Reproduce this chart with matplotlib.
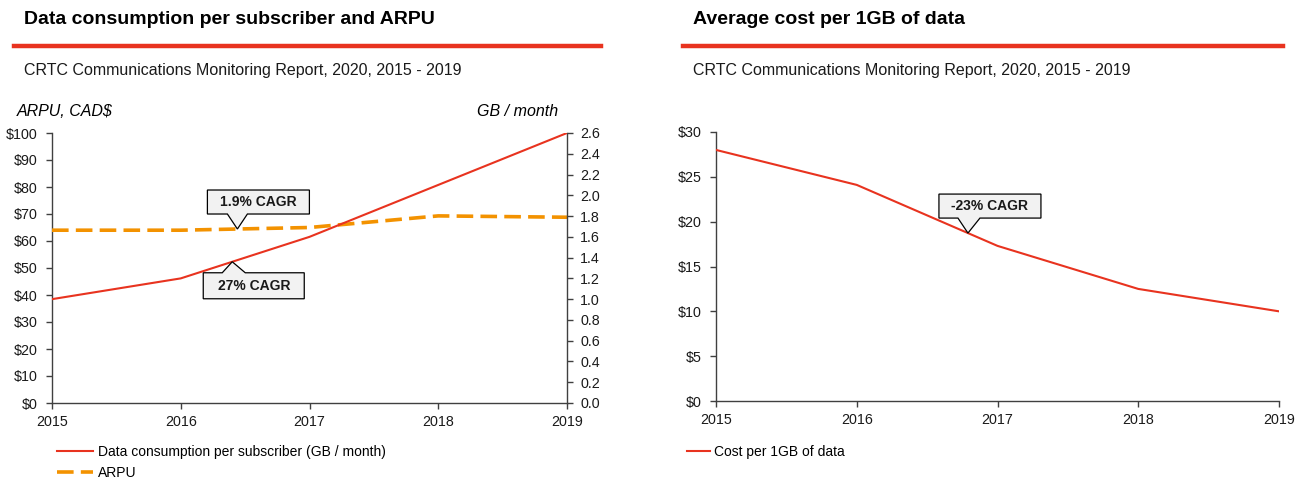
import matplotlib
matplotlib.use("Agg")
import matplotlib.pyplot as plt
import matplotlib.transforms as mtransforms
from matplotlib.patches import Polygon
from matplotlib.lines import Line2D
import numpy as np

plt.rcParams['font.family'] = ['Liberation Sans', 'DejaVu Sans']

# ---------------- data ----------------
years = [2015, 2016, 2017, 2018, 2019]
gb_per_month = [1.0, 1.2, 1.6, 2.1, 2.6]
arpu = [64.0, 64.0, 65.0, 69.3, 68.8]
cost_per_gb = [28.0, 24.1, 17.3, 12.5, 10.0]

left_ticks = list(range(0, 101, 10))
gb_ticks = [round(0.2 * i, 1) for i in range(14)]
cost_ticks = list(range(0, 31, 5))

title_left = "Data consumption per subscriber and ARPU"
title_right = "Average cost per 1GB of data"
subtitle = "CRTC Communications Monitoring Report, 2020, 2015 - 2019"
label_left = "ARPU, CAD$"
label_right = "GB / month"
legend_gb = "Data consumption per subscriber (GB / month)"
legend_arpu = "ARPU"
legend_cost = "Cost per 1GB of data"
cagr_arpu = "1.9% CAGR"
cagr_gb = "27% CAGR"
cagr_cost = "-23% CAGR"

RED = "#e8331f"
ORANGE = "#f39200"
AXC = "#404040"
DASH = (4.6, 2.0)

W, H = 1311, 483
fig = plt.figure(figsize=(W / 100, H / 100), dpi=100)


def fx(px):
    return px / W


def fy(py):
    return 1 - py / H


def style_axis(ax, sides, ypad):
    for s in ['left', 'right', 'top', 'bottom']:
        ax.spines[s].set_visible(s in sides)
        ax.spines[s].set_color(AXC)
        ax.spines[s].set_linewidth(1.0)
    ax.tick_params(axis='both', direction='out', length=4, width=1, color=AXC,
                   labelsize=10.3, labelcolor='#1a1a1a')
    ax.tick_params(axis='x', pad=5)
    ax.tick_params(axis='y', pad=ypad)


def callout(ax, xd, yd, text, box, notch):
    # box = (left, right, bottom, top) in pixel offsets from tip (y up)
    l, r, b, t = box
    n0, n1 = notch
    if b > 0:  # box above, pointer down
        verts = [(0, 0), (n1, b), (r, b), (r, t), (l, t), (l, b), (n0, b)]
    else:  # box below, pointer up
        verts = [(0, 0), (n0, t), (l, t), (l, b), (r, b), (r, t), (n1, t)]
    tr = mtransforms.Affine2D() + mtransforms.ScaledTranslation(xd, yd, ax.transData)
    poly = Polygon(verts, closed=True, facecolor='#f2f2f2', edgecolor='black',
                   linewidth=0.9, transform=tr, zorder=10, clip_on=False)
    ax.add_patch(poly)
    ax.text((l + r) / 2, (b + t) / 2, text, transform=tr, ha='center', va='center',
            fontsize=10, fontweight='bold', zorder=11, color='#1a1a1a')


# ---------------- headers ----------------
for x0, x1, title in [(14, 601, title_left), (683, 1283, title_right)]:
    fig.text(fx(x0 + 10), fy(20), title, fontsize=14, fontweight='bold',
             va='center', ha='left', color='black')
    fig.add_artist(Line2D([fx(x0), fx(x1)], [fy(46), fy(46)], color=RED,
                          linewidth=3.2, transform=fig.transFigure))
    fig.text(fx(x0 + 10), fy(70), subtitle, fontsize=11.5, va='center', ha='left',
             color='#1a1a1a')

# ---------------- left chart ----------------
ax = fig.add_axes([fx(52), fy(403), fx(567 - 52), (403 - 133) / H])
ax2 = ax.twinx()
ax.plot(years, arpu, color=ORANGE, linewidth=2.6, dashes=DASH, zorder=3)
ax2.plot(years, gb_per_month, color=RED, linewidth=1.5, zorder=4)
ax.set_xlim(2015, 2019)
ax.set_ylim(0, 100)
ax2.set_ylim(0, 2.6)
ax.set_xticks(years)
ax.set_xticklabels([str(y) for y in years])
ax.set_yticks(left_ticks)
ax.set_yticklabels([f"${v}" for v in left_ticks])
ax2.set_yticks(gb_ticks)
ax2.set_yticklabels([f"{v:.1f}" for v in gb_ticks])
style_axis(ax, ['left', 'bottom'], 6.5)
style_axis(ax2, ['right', 'bottom'], 5.5)
ax2.spines['bottom'].set_visible(False)
ax.patch.set_alpha(0)

fig.text(fx(17), fy(112), label_left, fontsize=11.5, style='italic', va='center', ha='left')
fig.text(fx(558), fy(112), label_right, fontsize=11.5, style='italic', va='center', ha='right')

# callouts
xa = 2016.44
callout(ax, xa, float(np.interp(xa, years, arpu)), cagr_arpu, (-30, 72, 15, 39), (-10, 10))
xg = 2016.40
callout(ax2, xg, float(np.interp(xg, years, gb_per_month)), cagr_gb, (-29, 72, -37, -11), (-10, 13))

# legend
h1 = Line2D([], [], color=RED, linewidth=1.5)
h2 = Line2D([], [], color=ORANGE, linewidth=2.6, dashes=DASH)
fig.legend([h1, h2], [legend_gb, legend_arpu], loc='upper left',
           bbox_to_anchor=(fx(57), fy(445)), frameon=False, fontsize=10,
           handlelength=2.6, handletextpad=0.35, labelspacing=0.5,
           borderaxespad=0, borderpad=0)

# ---------------- right chart ----------------
ax3 = fig.add_axes([fx(716), fy(401), fx(1279 - 716), (401 - 132) / H])
ax3.plot(years, cost_per_gb, color=RED, linewidth=1.5, zorder=4)
ax3.set_xlim(2015, 2019)
ax3.set_ylim(0, 30)
ax3.set_xticks(years)
ax3.set_xticklabels([str(y) for y in years])
ax3.set_yticks(cost_ticks)
ax3.set_yticklabels([f"${v}" for v in cost_ticks])
style_axis(ax3, ['left', 'bottom'], 6)

xc = 2016.79
callout(ax3, xc, float(np.interp(xc, years, cost_per_gb)), cagr_cost, (-29, 73, 15, 39), (-10, 12))

h3 = Line2D([], [], color=RED, linewidth=1.5)
fig.legend([h3], [legend_cost], loc='upper left',
           bbox_to_anchor=(fx(687), fy(445)), frameon=False, fontsize=10,
           handlelength=1.65, handletextpad=0.3, borderaxespad=0, borderpad=0)

fig.savefig("out.png", dpi=100)
